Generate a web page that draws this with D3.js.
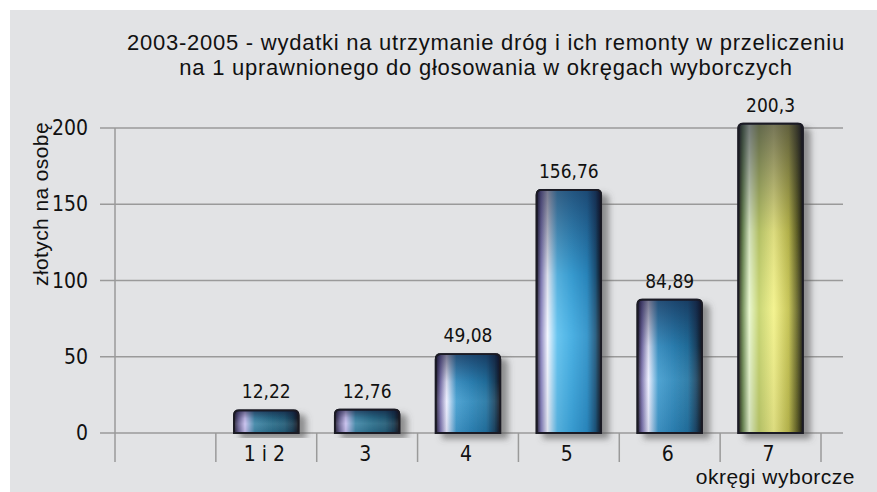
<!DOCTYPE html>
<meta charset="utf-8">
<style>
  body { margin: 0; background: #fff; }
  svg text { fill: #111; }
  .narrow { font-family: "Liberation Sans Narrow", "DejaVu Sans Condensed", "Liberation Sans", sans-serif; }
  .wide { font-family: "Liberation Sans", Arial, sans-serif; }
</style>
<body>
<script src="https://d3js.org/d3.v7.min.js"></script>
<div id="chart"></div>
<script>

// data
var categories = ["", "1 i 2", "3", "4", "5", "6", "7"];
var values = [null, 12.22, 12.76, 49.08, 156.76, 84.89, 200.3];
var barColors = ["", "teal", "teal", "blue", "bright", "blue", "yellow"];
var yTicks = [0, 50, 100, 150, 200];
var titleLines = ["2003-2005 - wydatki na utrzymanie dróg i ich remonty w przeliczeniu",
                  "na 1 uprawnionego do głosowania w okręgach wyborczych"];

var W = 877, H = 492;

var svg = d3.select("#chart")
  .append("svg")
    .attr("width", W)
    .attr("height", H);

// background panel
svg.append("rect")
  .attr("x", 10).attr("y", 10)
  .attr("width", W - 10).attr("height", H - 10)
  .style("fill", "#e2e3e5");

var x = d3.scaleBand()
  .domain(categories.map(function(d, i){ return i; }))
  .range([115, 821])
  .paddingInner(0).paddingOuter(0);

var y = d3.scaleLinear()
  .domain([0, 200])
  .range([433, 128]);

var defs = svg.append("defs");

// horizontal gradients that give the cylinder look
var palettes = {
  teal:   ["#221c30", "#6a6494", "#c8c0ee", "#3f86a6", "#2a6f8c", "#215b76", "#183a50", "#12141c"],
  blue:   ["#221c30", "#7a72ac", "#eceeff", "#419cce", "#2d88bb", "#2274a2", "#1a4664", "#12141c"],
  bright: ["#221c30", "#8681bc", "#f2f6ff", "#5cc0ee", "#3ba9e0", "#2b90c8", "#1d587e", "#12141c"],
  yellow: ["#26261a", "#6c8a52", "#e8f7cc", "#c4d26a", "#f3f288", "#c2c04c", "#666626", "#1a1a0e"]
};
var offs = [0, 0.07, 0.17, 0.32, 0.55, 0.78, 0.91, 1];

Object.keys(palettes).forEach(function(key){
  var g = defs.append("linearGradient")
    .attr("id", "grad-" + key)
    .attr("x1", 0).attr("x2", 1).attr("y1", 0).attr("y2", 0);
  palettes[key].forEach(function(c, i){
    g.append("stop").attr("offset", offs[i]).attr("stop-color", c);
  });
});

// darker top of each bar
var shade = defs.append("linearGradient")
  .attr("id", "shade")
  .attr("x1", 0).attr("x2", 0).attr("y1", 0).attr("y2", 1);
shade.append("stop").attr("offset", 0).attr("stop-color", "#101030").attr("stop-opacity", 0.55);
shade.append("stop").attr("offset", 0.35).attr("stop-color", "#101030").attr("stop-opacity", 0.1);
shade.append("stop").attr("offset", 0.6).attr("stop-color", "#ffffff").attr("stop-opacity", 0.08);
shade.append("stop").attr("offset", 1).attr("stop-color", "#101030").attr("stop-opacity", 0.1);

var shadow = defs.append("filter")
  .attr("id", "shadow")
  .attr("x", "-20%").attr("y", "-20%").attr("width", "150%").attr("height", "140%");
shadow.append("feDropShadow")
  .attr("dx", 7).attr("dy", 5)
  .attr("stdDeviation", 3)
  .attr("flood-color", "#555")
  .attr("flood-opacity", 0.6);

// horizontal grid lines
svg.selectAll(".grid")
  .data(yTicks)
  .enter()
  .append("line")
    .attr("class", "grid")
    .attr("x1", 100).attr("x2", 843)
    .attr("y1", function(d){ return y(d); })
    .attr("y2", function(d){ return y(d); })
    .style("stroke", "#9a9a9a")
    .style("stroke-width", 1.5);

// y axis line
svg.append("line")
  .attr("x1", x.range()[0]).attr("x2", x.range()[0])
  .attr("y1", y(200)).attr("y2", y(0) + 29)
  .style("stroke", "#9a9a9a")
  .style("stroke-width", 1.5);

// category separators
var seps = categories.map(function(d, i){ return x(i) + x.bandwidth(); });
svg.selectAll(".sep")
  .data(seps)
  .enter()
  .append("line")
    .attr("class", "sep")
    .attr("x1", function(d){ return d; })
    .attr("x2", function(d){ return d; })
    .attr("y1", y(0)).attr("y2", y(0) + 29)
    .style("stroke", "#9a9a9a")
    .style("stroke-width", 1.5);

// y tick labels
svg.selectAll(".ytick")
  .data(yTicks)
  .enter()
  .append("text")
    .attr("class", "ytick narrow")
    .attr("x", 88)
    .attr("y", function(d){ return y(d) + 7; })
    .attr("text-anchor", "end")
    .style("font-size", "21px")
    .text(function(d){ return d; });

// bars
var barW = x.bandwidth() * 0.64;
function barPath(d){
  var x0 = x(d.i) + (x.bandwidth() - barW) / 2, x1 = x0 + barW;
  var top = y(d.v) - 4, bot = y(0), r = 5;
  return "M" + x0 + "," + bot + "V" + (top + r) + "Q" + x0 + "," + top + " " + (x0 + r) + "," + top +
         "H" + (x1 - r) + "Q" + x1 + "," + top + " " + x1 + "," + (top + r) + "V" + bot + "Z";
}

var bars = svg.selectAll(".bar")
  .data(values.map(function(v, i){ return {v: v, i: i}; }).filter(function(d){ return d.v != null; }))
  .enter()
  .append("g")
    .attr("class", "bar");

bars.append("path")
  .attr("filter", "url(#shadow)")
  .attr("d", barPath)
  .style("fill", function(d){ return "url(#grad-" + barColors[d.i] + ")"; })
  .style("stroke", "#1b1b24")
  .style("stroke-width", 1.8);

bars.append("path")
  .attr("d", barPath)
  .style("fill", "url(#shade)")
  .style("stroke", "#1b1b24")
  .style("stroke-width", 1.8);

// value labels
bars.append("text")
  .attr("class", "narrow")
  .attr("x", function(d){ return x(d.i) + x.bandwidth() / 2; })
  .attr("y", function(d){ return y(d.v) - 16; })
  .attr("text-anchor", "middle")
  .style("font-size", "19px")
  .text(function(d){ return String(d.v).replace(".", ","); });

// category labels
svg.selectAll(".xlab")
  .data(categories)
  .enter()
  .append("text")
    .attr("class", "xlab narrow")
    .attr("x", function(d, i){ return x(i) + x.bandwidth() / 2 - 2; })
    .attr("y", 461)
    .attr("text-anchor", "middle")
    .style("font-size", "21px")
    .text(function(d){ return d; });

// title
svg.selectAll(".title")
  .data(titleLines)
  .enter()
  .append("text")
    .attr("class", "title wide")
    .attr("x", 486)
    .attr("y", function(d, i){ return 50 + i * 25; })
    .attr("text-anchor", "middle")
    .style("font-size", "22px")
    .style("letter-spacing", "0.75px")
    .text(function(d){ return d; });

// axis titles
svg.append("text")
  .attr("class", "wide")
  .attr("transform", "translate(48,204) rotate(-90)")
  .attr("text-anchor", "middle")
  .style("font-size", "21px")
  .style("letter-spacing", "0.4px")
  .text("złotych na osobę");

svg.append("text")
  .attr("class", "wide")
  .attr("x", 855)
  .attr("y", 484)
  .attr("text-anchor", "end")
  .style("font-size", "21px")
  .style("letter-spacing", "0.5px")
  .text("okręgi wyborcze");

</script>
</body>
